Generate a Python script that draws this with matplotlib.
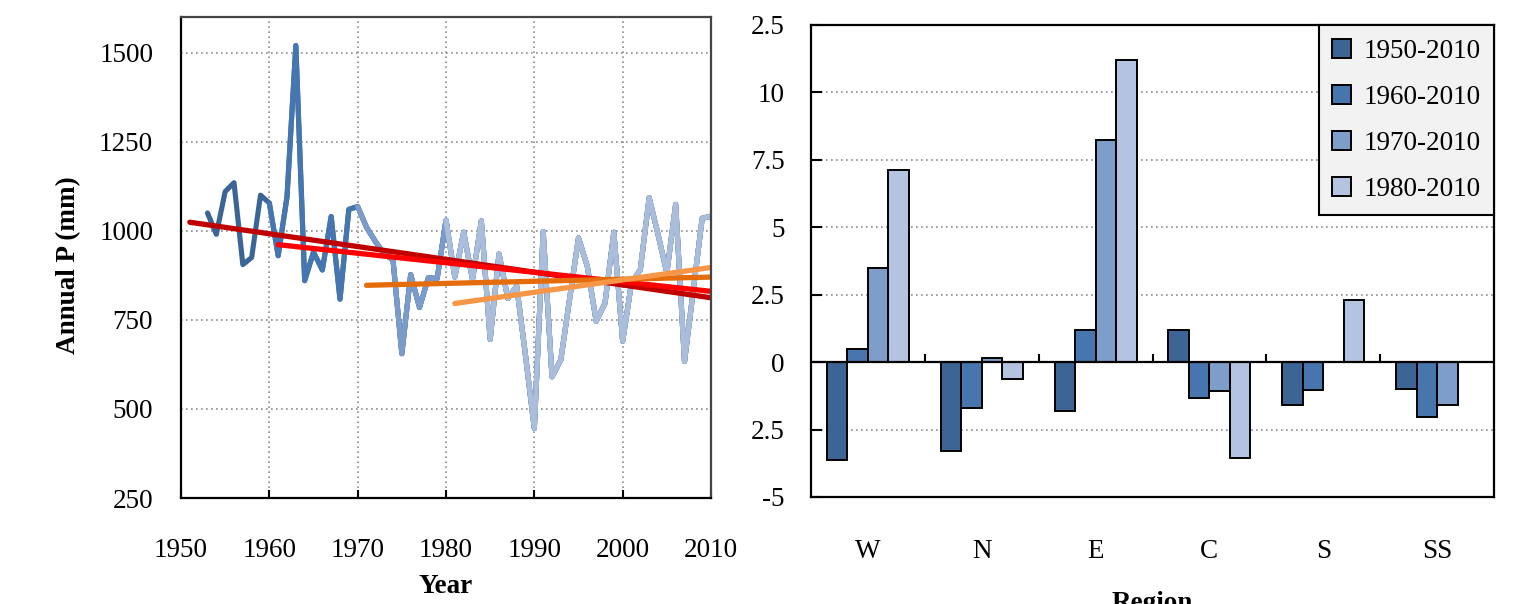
import numpy as np
import matplotlib
matplotlib.use("Agg")
import matplotlib.pyplot as plt

plt.rcParams['font.family'] = ['Liberation Serif', 'DejaVu Serif']

# annual precipitation, 1953-2010
years = list(range(1953, 2011))
annual_p = [1050, 990, 1110, 1135, 905, 925, 1100, 1078, 930, 1095,
            1520, 860, 940, 890, 1040, 808, 1060, 1068, 1010, 970,
            935, 918, 655, 877, 785, 868, 866, 1030, 870, 996,
            863, 1028, 695, 935, 810, 845, 650, 445, 998, 590,
            638, 810, 980, 900, 746, 797, 996, 690, 854, 891,
            1093, 990, 882, 1074, 633, 834, 1035, 1041]

# periods and their colours
periods = ['1950-2010', '1960-2010', '1970-2010', '1980-2010']
period_start = [1950, 1960, 1970, 1980]
series_colors = ['#3B6597', '#4676B0', '#7B9CCA', '#AABDDA']

# linear trend per period (start year, value at start, value at 2010)
trend_x0 = [1951, 1961, 1971, 1981]
trend_y0 = [1024, 961, 847, 796]
trend_y1 = [812, 830, 870, 897]
trend_colors = ['#C00000', '#FF0000', '#E46C0A', '#F79646']

# trend magnitude by region
regions = ['W', 'N', 'E', 'C', 'S', 'SS']
trend_1950 = [-3.61, -3.28, -1.80, 1.21, -1.59, -1.00]
trend_1960 = [0.48, -1.71, 1.21, -1.33, -1.02, -2.04]
trend_1970 = [3.49, 0.15, 8.24, -1.07, 0.02, -1.59]
trend_1980 = [7.13, -0.62, 11.22, -3.54, 2.32, np.nan]
bar_colors = ['#3C6494', '#4775AE', '#7F9DC9', '#B4C3DF']
right_ticks = [-5, -2.5, 0, 2.5, 5, 7.5, 10, 12.5]
right_ticklabels = ['-5', '2.5', '0', '2.5', '5', '7.5', '10', '2.5']

FS = 19.5

fig = plt.figure(figsize=(15.22, 6.04), dpi=100)
W, H = 1522, 604
ax1 = fig.add_axes([181 / W, 1 - 498 / H, 530 / W, 481 / H])
ax2 = fig.add_axes([811 / W, 1 - 497 / H, 683 / W, 472 / H])

grid_kw = dict(color='#8C8C8C', linestyle=(0, (1, 2)), linewidth=1.2)

# ---- left: annual series with trends
yrs = np.array(years)
vals = np.array(annual_p)
for start, col in zip(period_start, series_colors):
    m = yrs >= start
    ax1.plot(yrs[m], vals[m], color=col, linewidth=3.7,
             solid_joinstyle='round', solid_capstyle='round')
for x0, y0, y1, col in zip(trend_x0, trend_y0, trend_y1, trend_colors):
    ax1.plot([x0, 2010], [y0, y1], color=col, linewidth=3.8,
             solid_capstyle='round')

ax1.set_xlim(1950, 2010)
ax1.set_ylim(250, 1600)
ax1.set_xticks(range(1950, 2011, 10))
ax1.set_yticks(range(250, 1501, 250))
ax1.grid(True, **grid_kw)
ax1.set_axisbelow(True)
ax1.tick_params(axis='x', direction='in', length=6, width=1.5, pad=29,
                labelsize=FS, top=False)
ax1.tick_params(axis='y', length=0, pad=20, labelsize=FS)
for s in ax1.spines.values():
    s.set_linewidth(1.6)
ax1.spines['top'].set_color('#444444')
ax1.spines['right'].set_color('#444444')
ax1.set_xlabel('Year', fontsize=FS, fontweight='bold')
ax1.xaxis.set_label_coords(0.5, -0.158)
ax1.set_ylabel('Annual P (mm)', fontsize=FS, fontweight='bold')
ax1.yaxis.set_label_coords(-0.188, 0.484)

# ---- right: grouped bars by region
x = np.arange(len(regions))
bw = 0.18
for i, (vals_r, col, lab) in enumerate(zip(
        [trend_1950, trend_1960, trend_1970, trend_1980], bar_colors, periods)):
    ax2.bar(x + (i - 1.5) * bw, vals_r, width=bw, color=col,
            edgecolor='black', linewidth=1.4, label=lab, zorder=3)

ax2.axhline(0, color='black', linewidth=1.6, zorder=4)
ax2.vlines(x[:-1] + 0.5, 0, 0.3, color='black', linewidth=1.5, zorder=4)
ax2.set_xlim(-0.5, len(regions) - 0.5)
ax2.set_ylim(-5, 12.5)
ax2.set_yticks(right_ticks)
ax2.set_yticklabels(right_ticklabels)
ax2.set_xticks(x)
ax2.set_xticklabels(regions)
ax2.yaxis.grid(True, **grid_kw)
ax2.set_axisbelow(True)
ax2.tick_params(axis='x', length=0, pad=30, labelsize=FS)
ax2.tick_params(axis='y', direction='in', length=8, width=1.5, pad=19,
                labelsize=FS)
for s in ax2.spines.values():
    s.set_linewidth(1.6)
ax2.set_xlabel('Region', fontsize=FS, fontweight='bold')
ax2.xaxis.set_label_coords(0.5, -0.2)

leg = ax2.legend(loc='upper right', borderaxespad=0, fontsize=FS,
                 frameon=True, fancybox=False, handlelength=0.7,
                 handleheight=0.7, handletextpad=0.45, labelspacing=0.78,
                 borderpad=0.5)
leg.get_frame().set_facecolor('#F2F2F2')
leg.get_frame().set_edgecolor('black')
leg.get_frame().set_linewidth(1.5)
leg.get_frame().set_alpha(1)

fig.savefig('out.png', dpi=100)
